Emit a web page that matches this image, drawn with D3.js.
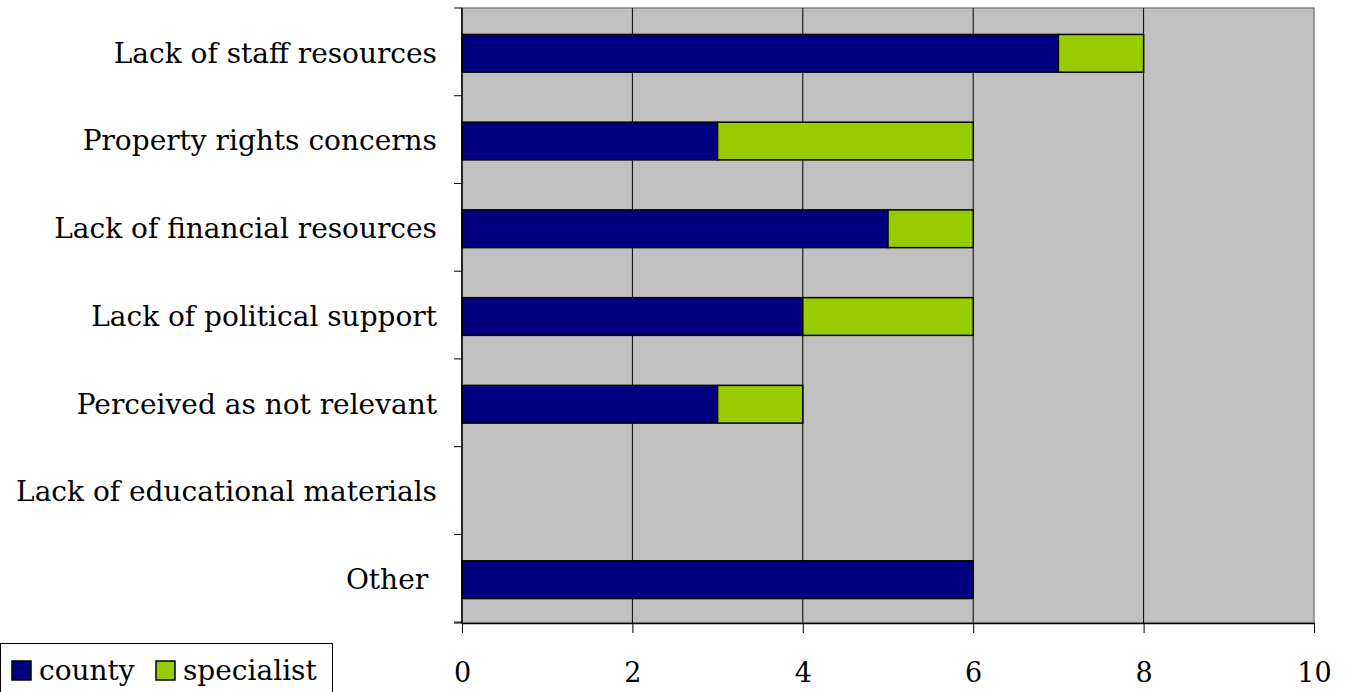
<!DOCTYPE html>
<html>
<head>
<meta charset="utf-8">
<script src="https://cdn.jsdelivr.net/npm/d3@7"></script>
<style>
  body { margin: 0; background: #fff; }
  svg { display: block; }
</style>
</head>
<body>
<svg id="chart"></svg>
<script>
// Chart data, top row first
const categories = [
    "Lack of staff resources",
    "Property rights concerns",
    "Lack of financial resources",
    "Lack of political support",
    "Perceived as not relevant",
    "Lack of educational materials",
    "Other\u00a0"
];
const county = [7, 3, 5, 4, 3, 0, 6];
const specialist = [1, 3, 1, 2, 1, 0, 0];
const seriesNames = ["county", "specialist"];
const seriesColors = ["#000080", "#99CC00"];
const xTicks = [0, 2, 4, 6, 8, 10];

const width = 1346, height = 692;
const margin = { top: 8, right: 32, bottom: 69, left: 462 };
const serif = "'DejaVu Serif', serif";

const svg = d3.select("#chart")
    .attr("width", width)
    .attr("height", height);

// Scales
const x = d3.scaleLinear()
    .domain([0, 10])
    .range([margin.left, width - margin.right]);

const y = d3.scaleBand()
    .domain(categories)
    .range([margin.top, height - margin.bottom])
    .paddingInner(0.57)
    .paddingOuter(0.29);

// Plot background
svg.append("rect")
    .attr("x", x(0))
    .attr("y", margin.top)
    .attr("width", x(10) - x(0))
    .attr("height", height - margin.bottom - margin.top)
    .attr("fill", "#C0C0C0")
    .attr("stroke", "#808080")
    .attr("stroke-width", 1.5);

// Vertical gridlines
svg.append("g")
    .selectAll("line")
    .data([2, 4, 6, 8])
    .enter().append("line")
    .attr("x1", d => x(d))
    .attr("x2", d => x(d))
    .attr("y1", margin.top)
    .attr("y2", height - margin.bottom)
    .attr("stroke", "#000")
    .attr("stroke-width", 1);

// Stack the two series
const rows = categories.map((c, i) => ({ cat: c, county: county[i], specialist: specialist[i] }));
const stacked = d3.stack().keys(seriesNames)(rows);

svg.append("g")
    .selectAll("g")
    .data(stacked)
    .enter().append("g")
    .attr("fill", (d, i) => seriesColors[i])
    .selectAll("rect")
    .data(d => d.filter(p => p[1] - p[0] > 0))
    .enter().append("rect")
    .attr("x", d => x(d[0]))
    .attr("width", d => x(d[1]) - x(d[0]))
    .attr("y", d => y(d.data.cat) + 1)
    .attr("height", y.bandwidth())
    .attr("stroke", "#000")
    .attr("stroke-width", 1.5);

// Left axis line and row-boundary ticks
const rowEdges = d3.range(categories.length + 1).map(i => margin.top + i * y.step());
svg.append("line")
    .attr("x1", x(0)).attr("x2", x(0))
    .attr("y1", margin.top).attr("y2", height - margin.bottom)
    .attr("stroke", "#000").attr("stroke-width", 1.5);
svg.append("g")
    .selectAll("line")
    .data(rowEdges)
    .enter().append("line")
    .attr("x1", x(0) - 8)
    .attr("x2", x(0))
    .attr("y1", d => d)
    .attr("y2", d => d)
    .attr("stroke", "#000");

// Category labels
svg.append("g")
    .selectAll("text")
    .data(categories)
    .enter().append("text")
    .attr("x", x(0) - 25)
    .attr("y", d => y(d) + y.bandwidth() / 2)
    .attr("dy", "0.37em")
    .attr("text-anchor", "end")
    .style("font-family", serif)
    .style("font-size", "28px")
    .attr("fill", "#000")
    .text(d => d);

// Bottom axis
const xAxis = svg.append("g")
    .attr("transform", `translate(0,${height - margin.bottom})`)
    .call(d3.axisBottom(x).tickValues(xTicks).tickSize(10).tickPadding(30).tickSizeOuter(0));
xAxis.select(".domain").attr("stroke", "#000").attr("stroke-width", 1.5);
xAxis.selectAll(".tick line").attr("stroke", "#000");
xAxis.selectAll(".tick text")
    .style("font-family", serif)
    .style("font-size", "27px")
    .attr("fill", "#000");
// extend the axis line a little to the left like the original
svg.append("line")
    .attr("x1", x(0) - 8).attr("x2", x(0))
    .attr("y1", height - margin.bottom).attr("y2", height - margin.bottom)
    .attr("stroke", "#000");

// Legend
const legend = svg.append("g").attr("class", "legend");
legend.append("rect")
    .attr("x", 0.5)
    .attr("y", 643.5)
    .attr("width", 332)
    .attr("height", 60)
    .attr("fill", "#fff")
    .attr("stroke", "#000");

const legendX = [12, 156];
const items = legend.selectAll(".legend-item")
    .data(seriesNames)
    .enter().append("g")
    .attr("class", "legend-item")
    .attr("transform", (d, i) => `translate(${legendX[i]},661)`);

items.append("rect")
    .attr("width", 19)
    .attr("height", 19)
    .attr("fill", (d, i) => seriesColors[i])
    .attr("stroke", "#000")
    .attr("stroke-width", 1.5);

items.append("text")
    .attr("x", 27)
    .attr("y", 19)
    .style("font-family", serif)
    .style("font-size", "28px")
    .attr("fill", "#000")
    .text(d => d);
</script>
</body>
</html>
